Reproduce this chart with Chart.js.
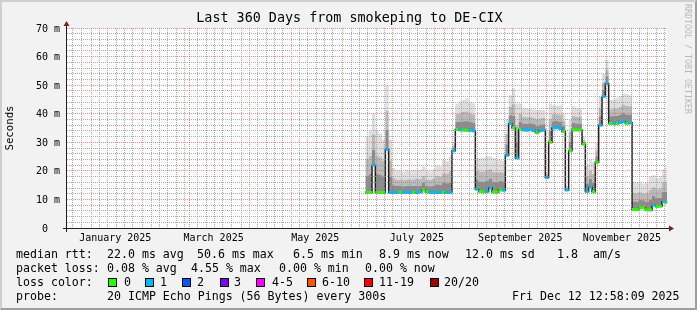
<!DOCTYPE html>
<html>
<head>
<meta charset="utf-8">
<title>Last 360 Days from smokeping to DE-CIX</title>
<script src="https://cdn.jsdelivr.net/npm/chart.js@4.4.1/dist/chart.umd.min.js"></script>
<style>
  body { margin: 0; width: 697px; height: 310px; position: relative; overflow: hidden; font-family: "DejaVu Sans Mono", monospace; }
  #frame { position: absolute; left: 0; top: 0; width: 697px; height: 310px; box-sizing: border-box; background: #f2f2f2;
           border-style: solid; border-width: 2px; border-color: #cfcfcf #9e9e9e #9e9e9e #cfcfcf; }
  #c { position: absolute; left: 0; top: 0; }
  #title { position: absolute; left: 1px; top: 10px; width: 697px; text-align: center; font-size: 13.4px; line-height: 16px; color: #000; white-space: pre; }
  .t { position: absolute; font-size: 11.6px; line-height: 14px; white-space: pre; color: #000; }
  .box { position: absolute; width: 7px; height: 7px; border: 1px solid #000; }
  #wm { position: absolute; left: 683px; top: 4px; writing-mode: vertical-rl; font-size: 8.3px; line-height: 10px; color: #b8b8b8; }
</style>
</head>
<body>
<div id="frame"></div>
<canvas id="c" width="697" height="310"></canvas>
<div id="title">Last 360 Days from smokeping to DE-CIX</div>
<div id="wm">RRDTOOL / TOBI OETIKER</div>

<div class="t" style="left:16px;top:247px">median rtt:</div>
<div class="t" style="left:107px;top:247px">22.0 ms avg</div>
<div class="t" style="left:197px;top:247px">50.6 ms max</div>
<div class="t" style="left:293px;top:247px">6.5 ms min</div>
<div class="t" style="left:379px;top:247px">8.9 ms now</div>
<div class="t" style="left:465px;top:247px">12.0 ms sd</div>
<div class="t" style="left:557px;top:247px">1.8</div>
<div class="t" style="left:593px;top:247px">am/s</div>

<div class="t" style="left:16px;top:261px">packet loss:</div>
<div class="t" style="left:107px;top:261px">0.08 % avg</div>
<div class="t" style="left:191px;top:261px">4.55 % max</div>
<div class="t" style="left:279px;top:261px">0.00 % min</div>
<div class="t" style="left:365px;top:261px">0.00 % now</div>

<div class="t" style="left:16px;top:275px">loss color:</div>
<div id="losslegend"></div>

<div class="t" style="left:16px;top:289px">probe:</div>
<div class="t" style="left:107px;top:289px">20 ICMP Echo Pings (56 Bytes) every 300s</div>
<div class="t" style="left:512px;top:289px">Fri Dec 12 12:58:09 2025</div>

<script>
// samples every 2 days, day 0 = Tue Dec 17 2024 12:58:09
const sampleDays = [
  179, 181, 183, 185, 187, 189, 191, 193, 195, 197,
  199, 201, 203, 205, 207, 209, 211, 213, 215, 217,
  219, 221, 223, 225, 227, 229, 231, 233, 235, 237,
  239, 241, 243, 245, 247, 249, 251, 253, 255, 257,
  259, 261, 263, 265, 267, 269, 271, 273, 275, 277,
  279, 281, 283, 285, 287, 289, 291, 293, 295, 297,
  299, 301, 303, 305, 307, 309, 311, 313, 315, 317,
  319, 321, 323, 325, 327, 329, 331, 333, 335, 337,
  339, 341, 343, 345, 347, 349, 351, 353, 355, 357,
  359,
];
const endDay = 360;

// median rtt (ms)
const medianRtt = [
  12.4, 12.4, 22.0, 12.4, 12.4, 12.4, 27.5, 12.4, 12.4, 12.4,
  12.4, 12.4, 12.4, 12.4, 12.4, 12.4, 12.6, 13.3, 12.6, 12.4,
  12.4, 12.4, 12.4, 12.4, 12.4, 12.4, 27.0, 34.5, 34.3, 34.2,
  34.1, 34.2, 34.0, 13.6, 12.8, 12.6, 12.8, 14.0, 12.6, 12.5,
  13.3, 13.2, 25.5, 36.5, 35.0, 24.5, 34.5, 34.3, 34.2, 34.4,
  34.1, 33.4, 34.0, 34.2, 17.7, 30.0, 35.0, 35.2, 34.8, 33.8,
  13.3, 27.0, 34.3, 34.3, 34.3, 29.3, 12.8, 14.3, 12.7, 23.0,
  36.0, 46.0, 50.6, 36.6, 36.7, 36.5, 36.9, 37.2, 36.6, 36.8,
  6.5, 6.4, 7.0, 7.1, 6.4, 6.3, 8.0, 7.5, 7.6, 9.2,
  8.9,
];

// smoke: dense part just above the median
const smokeInner = [
  18.3, 18.9, 27.4, 18.9, 18.6, 18.0, 34.3, 18.0, 15.0, 14.7,
  14.7, 14.6, 14.8, 14.7, 14.7, 14.8, 14.9, 15.8, 14.8, 14.6,
  14.8, 15.3, 15.1, 15.8, 15.7, 16.2, 27.9, 37.2, 37.3, 37.4,
  37.5, 37.1, 36.9, 16.8, 16.3, 16.2, 16.5, 17.3, 16.2, 16.0,
  16.5, 16.3, 29.3, 39.5, 39.2, 30.2, 37.2, 36.6, 36.5, 36.7,
  36.4, 35.8, 36.2, 36.3, 18.2, 34.1, 37.4, 37.5, 37.3, 35.7,
  13.8, 30.3, 36.8, 36.6, 36.6, 30.1, 15.6, 17.2, 15.8, 25.1,
  39.0, 48.4, 53.1, 39.1, 39.2, 39.2, 39.7, 40.2, 39.7, 39.7,
  9.4, 9.3, 9.8, 9.7, 9.3, 9.8, 11.2, 10.5, 10.7, 12.6,
  12.6,
];

// smoke: middle part
const smokeMid = [
  24.2, 25.4, 32.8, 25.4, 24.8, 23.6, 41.0, 23.6, 17.6, 17.0,
  17.0, 16.8, 17.1, 17.0, 17.1, 17.3, 17.2, 18.2, 17.0, 16.8,
  17.3, 18.2, 17.9, 19.2, 19.1, 20.0, 28.8, 39.9, 40.2, 40.6,
  40.9, 40.1, 39.8, 20.1, 19.8, 19.8, 20.2, 20.6, 19.7, 19.4,
  19.6, 19.4, 33.0, 42.5, 43.3, 36.0, 40.0, 38.9, 38.8, 38.9,
  38.6, 38.1, 38.4, 38.5, 18.8, 38.2, 39.8, 39.8, 39.7, 37.5,
  14.2, 33.6, 39.2, 38.9, 38.9, 30.9, 18.3, 20.0, 18.9, 27.2,
  42.0, 50.8, 55.5, 41.5, 41.7, 41.8, 42.4, 43.1, 42.7, 42.6,
  12.3, 12.2, 12.5, 12.2, 12.2, 13.3, 14.3, 13.5, 13.8, 16.0,
  16.3,
];

// smoke: slowest pings
const smokeTop = [
  32, 34, 40, 34, 33, 31, 50, 31, 21, 20,
  20, 19.8, 20.3, 20, 20.2, 20.5, 20.3, 21.5, 20, 19.8,
  20.5, 22, 21.5, 23.8, 23.5, 25, 30, 43.5, 44.2, 44.8,
  45.4, 44, 43.6, 24.4, 24.4, 24.6, 25.2, 25, 24.5, 24,
  23.8, 23.5, 38, 46.5, 48.9, 43.6, 43.6, 42, 41.9, 41.9,
  41.6, 41.3, 41.3, 41.3, 19.5, 43.6, 43, 42.8, 43, 40,
  14.8, 38, 42.5, 42, 41.9, 32, 22, 23.8, 23, 30,
  46, 54, 58.8, 44.8, 45, 45.4, 46.1, 47.1, 46.8, 46.5,
  16.2, 16, 16.2, 15.6, 16, 18, 18.5, 17.5, 18, 20.5,
  21.2,
];

// lost pings out of 20
const lostPings = [
  0, 0, 1, 0, 0, 0, 1, 1, 1, 1,
  0, 1, 1, 1, 0, 1, 1, 0, 0, 1,
  1, 1, 1, 0, 1, 1, 1, 0, 1, 0,
  0, 1, 1, 1, 0, 0, 1, 1, 0, 0,
  0, 1, 1, 1, 0, 1, 0, 1, 1, 1,
  1, 0, 1, 1, 1, 0, 1, 1, 1, 0,
  1, 0, 0, 0, 0, 0, 1, 1, 0, 0,
  1, 1, 1, 0, 1, 0, 1, 1, 0, 1,
  0, 0, 0, 0, 0, 0, 1, 0, 0, 1,
  0,
];

const lossLabels = ["0", "1", "2", "3", "4-5", "6-10", "11-19", "20/20"];
const lossColors = ["#26ff00", "#00b8ff", "#0059ff", "#7e00ff", "#ff00ff", "#ff5500", "#ff0000", "#a10000"];

const monthLabels = ["January 2025", "March 2025", "May 2025", "July 2025", "September 2025", "November 2025"];
const labelMonths = [0, 2, 4, 6, 8, 10];

const START = Date.UTC(2024, 11, 17, 12, 58, 9);
const day_of = (y, m, d, h = 0) => (Date.UTC(y, m, d, h) - START) / 86400000;

const MGRID = "rgba(222,79,79,0.6)";
const GRID = "rgba(143,143,143,0.75)";

// loss colour legend
const legend_x = [[108, 124], [145, 160], [182, 197], [220, 234], [256, 272], [307, 322], [364, 379], [430, 444]];
const legend_el = document.getElementById("losslegend");
lossLabels.forEach((label, i) => {
  const box = document.createElement("div");
  box.className = "box";
  box.style.left = legend_x[i][0] + "px";
  box.style.top = "278px";
  box.style.background = lossColors[i];
  legend_el.appendChild(box);
  const txt = document.createElement("div");
  txt.className = "t";
  txt.style.left = legend_x[i][1] + "px";
  txt.style.top = "275px";
  txt.textContent = label;
  legend_el.appendChild(txt);
});

const build_x_ticks = () => {
  const ticks = [];
  for (let mi = -1; mi < 12; mi++) {
    const y = mi < 0 ? 2024 : 2025;
    const m = mi < 0 ? 11 : mi;
    const first = day_of(y, m, 1);
    if (first > 0) ticks.push({ value: first, kind: "major" });
    [6, 11, 16, 21, 26].forEach((d) => {
      const v = day_of(y, m, d);
      if (v > 0 && v < endDay) ticks.push({ value: v, kind: "minor" });
    });
  }
  monthLabels.forEach((text, i) => {
    ticks.push({ value: day_of(2025, labelMonths[i], 15, 12), kind: "label", text });
  });
  return ticks.sort((a, b) => a.value - b.value);
};

const to_points = (arr) =>
  sampleDays.map((d, i) => ({ x: d, y: arr[i] })).concat([{ x: endDay, y: arr[arr.length - 1] }]);

const loss_marks = (cls) => {
  const out = [];
  sampleDays.forEach((d, i) => {
    if (lostPings[i] !== cls) return;
    const next = i + 1 < sampleDays.length ? sampleDays[i + 1] : endDay;
    out.push({ x: d, y: medianRtt[i] }, { x: next, y: medianRtt[i] }, { x: next, y: null });
  });
  return out;
};

const band = (data, fill, color) => ({
  data,
  fill,
  stepped: true,
  backgroundColor: color,
  borderColor: "rgba(0,0,0,0)",
  borderWidth: 0,
  pointRadius: 0,
});

const plot_frame = {
  id: "plot_frame",
  beforeDraw(chart) {
    const { ctx, chartArea: a } = chart;
    ctx.save();
    ctx.fillStyle = "#ffffff";
    ctx.fillRect(a.left, a.top, a.right - a.left, a.bottom - a.top);
    ctx.restore();
  },
  afterDraw(chart) {
    const { ctx, chartArea: a } = chart;
    const x0 = a.left - 0.5;
    const y0 = a.bottom + 0.5;
    ctx.save();
    ctx.strokeStyle = "#1f1f1f";
    ctx.lineWidth = 1;
    ctx.beginPath();
    ctx.moveTo(a.left - 4, y0);
    ctx.lineTo(a.right + 4, y0);
    ctx.moveTo(x0, a.bottom + 4);
    ctx.lineTo(x0, a.top - 4);
    ctx.stroke();
    ctx.fillStyle = "#801f1f";
    ctx.beginPath();
    ctx.moveTo(a.right + 2, y0 - 3);
    ctx.lineTo(a.right + 2, y0 + 3);
    ctx.lineTo(a.right + 7, y0);
    ctx.closePath();
    ctx.fill();
    ctx.beginPath();
    ctx.moveTo(x0 - 3, a.top - 2);
    ctx.lineTo(x0 + 3, a.top - 2);
    ctx.lineTo(x0, a.top - 7);
    ctx.closePath();
    ctx.fill();
    ctx.restore();
  },
};

const mono = "'DejaVu Sans Mono', monospace";

new Chart(document.getElementById("c"), {
  type: "line",
  data: {
    datasets: [
      { data: loss_marks(0), borderColor: lossColors[0], borderWidth: 3, pointRadius: 0, fill: false, borderCapStyle: "butt" },
      { data: loss_marks(1), borderColor: lossColors[1], borderWidth: 3, pointRadius: 0, fill: false, borderCapStyle: "butt" },
      { data: to_points(medianRtt), borderColor: "#202020", borderWidth: 1.5, pointRadius: 0, fill: false, stepped: true },
      band(to_points(medianRtt), false, "rgba(0,0,0,0)"),
      band(to_points(smokeInner), 3, "#8c8c8c"),
      band(to_points(smokeMid), 4, "#bababa"),
      band(to_points(smokeTop), 5, "#dedede"),
    ],
  },
  options: {
    responsive: false,
    devicePixelRatio: 1,
    animation: false,
    events: [],
    layout: { padding: { left: 0, right: 30, top: 28, bottom: 0 } },
    plugins: {
      legend: { display: false },
      tooltip: { enabled: false },
    },
    scales: {
      x: {
        type: "linear",
        min: 0,
        max: endDay,
        offset: false,
        afterFit: (scale) => { scale.height = 82; },
        afterBuildTicks: (scale) => { scale.ticks = build_x_ticks(); },
        grid: {
          z: 1,
          drawTicks: false,
          lineWidth: 1,
          color: (ctx) => ctx.tick.kind === "major" ? MGRID : ctx.tick.kind === "minor" ? GRID : "rgba(0,0,0,0)",
        },
        border: { display: false, dash: [1, 1] },
        ticks: {
          autoSkip: false,
          maxRotation: 0,
          minRotation: 0,
          padding: 4,
          color: "#000",
          font: { family: mono, size: 10 },
          callback: (v, i, ticks) => ticks[i].text || "",
        },
      },
      y: {
        min: 0,
        max: 70,
        afterFit: (scale) => { scale.width = 67; },
        afterBuildTicks: (scale) => {
          const ticks = [];
          for (let v = 0; v <= 70; v += 2) ticks.push({ value: v });
          scale.ticks = ticks;
        },
        grid: {
          z: 1,
          drawTicks: false,
          lineWidth: 1,
          color: (ctx) => ctx.tick.value % 10 === 0 ? MGRID : GRID,
        },
        border: { display: false, dash: [1, 1] },
        title: {
          display: true,
          text: "Seconds",
          color: "#000",
          font: { family: mono, size: 10.7 },
          padding: { top: 4, bottom: 0 },
        },
        ticks: {
          autoSkip: false,
          padding: 7,
          labelOffset: 1,
          color: "#000",
          font: { family: mono, size: 10 },
          callback: (v) => v % 10 === 0 ? (v === 0 ? "0  " : v + " m") : "",
        },
      },
    },
  },
  plugins: [plot_frame],
});
</script>
</body>
</html>
